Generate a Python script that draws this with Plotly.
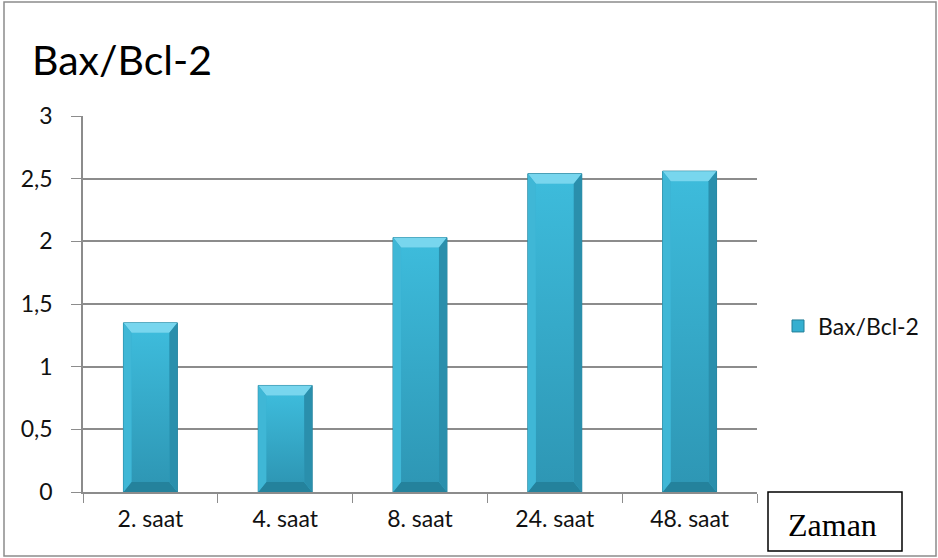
import plotly.graph_objects as go

# Bax/Bcl-2 ratio over time
categories = ["2. saat", "4. saat", "8. saat", "24. saat", "48. saat"]
ratio = [1.35, 0.85, 2.03, 2.54, 2.56]
series_name = "Bax/Bcl-2"
axis_label = "Zaman"

W, H = 938, 558
L, R, T, B = 83, 181, 116, 66
pw, ph = W - L - R, H - T - B
Y_MAX = 3.0
BAR_W = 0.4


def px(x):
    return (x - L) / pw


def py(y):
    return (H - B - y) / ph


# bevel size in data units (about 8 px wide, 10 px tall)
bx = 8 * len(categories) / pw
by = 10 * Y_MAX / ph
hw = BAR_W / 2

fig = go.Figure()
fig.add_trace(go.Bar(
    x=categories, y=ratio, name=series_name,
    marker=dict(color="#35AFD0", line=dict(color="#237F98", width=1)),
    width=BAR_W, showlegend=True,
))

# shaded front face of each bar on a numeric overlay axis
for i, v in enumerate(ratio):
    fig.add_trace(go.Scatter(
        x=[i - hw + bx, i + hw - bx, i + hw - bx, i - hw + bx, i - hw + bx],
        y=[by, by, v - by, v - by, by],
        xaxis="x2", fill="toself", mode="none", showlegend=False, hoverinfo="skip",
        fillgradient=dict(type="vertical",
                          colorscale=[[0, "#2E97B5"], [1, "#3DBBDB"]]),
    ))

shapes = []
for i, v in enumerate(ratio):
    xl, xr = i - hw, i + hw
    xil, xir = xl + bx, xr - bx
    bevels = [
        # top, bottom, left, right facets
        ([(xl, v), (xr, v), (xir, v - by), (xil, v - by)], "#78D6EE"),
        ([(xl, 0), (xr, 0), (xir, by), (xil, by)], "#24829C"),
        ([(xl, 0), (xl, v), (xil, v - by), (xil, by)], "#3FB7D6"),
        ([(xr, 0), (xr, v), (xir, v - by), (xir, by)], "#2A8FAC"),
    ]
    for pts, col in bevels:
        path = "M " + " L ".join(f"{x},{y}" for x, y in pts) + " Z"
        shapes.append(dict(type="path", xref="x2", yref="y", path=path,
                           fillcolor=col, line=dict(width=0), layer="above"))

# chart frame and the axis-name box
shapes.append(dict(type="rect", xref="paper", yref="paper",
                   x0=px(4), x1=px(936), y0=py(556), y1=py(2),
                   line=dict(color="#8c8c8c", width=1.5), layer="below"))
shapes.append(dict(type="rect", xref="paper", yref="paper",
                   x0=px(768), x1=px(902), y0=py(551), y1=py(492),
                   line=dict(color="black", width=1.5), fillcolor="white"))

fig.update_layout(
    width=W, height=H,
    margin=dict(l=L, r=R, t=T, b=B),
    paper_bgcolor="white", plot_bgcolor="white",
    separators=",.",
    font=dict(family="Lato, Open Sans, sans-serif", size=23, color="#111"),
    xaxis=dict(
        showline=True, linecolor="#8c8c8c", linewidth=1.5,
        ticks="outside", tickson="boundaries", ticklen=9, tickcolor="#8c8c8c",
        showgrid=False, tickfont=dict(size=23), ticklabelstandoff=6,
    ),
    xaxis2=dict(overlaying="x", range=[-0.5, len(categories) - 0.5],
                visible=False, fixedrange=True),
    yaxis=dict(
        range=[0, Y_MAX], dtick=0.5, showline=True, linecolor="#8c8c8c", linewidth=1.5,
        ticks="outside", ticklen=10, tickcolor="#8c8c8c",
        showgrid=True, gridcolor="#8c8c8c", gridwidth=1.5,
        zeroline=False, tickfont=dict(size=23), ticklabelstandoff=14,
    ),
    legend=dict(
        x=px(778), y=py(326), xanchor="left", yanchor="middle",
        font=dict(size=23), bgcolor="rgba(0,0,0,0)",
    ),
    shapes=shapes,
    annotations=[
        dict(text=series_name, xref="paper", yref="paper",
             x=px(30), y=py(60), xanchor="left", yanchor="middle",
             showarrow=False, font=dict(size=41, color="black")),
        dict(text=axis_label, xref="paper", yref="paper",
             x=px(833), y=py(525), xanchor="center", yanchor="middle",
             showarrow=False,
             font=dict(family="Liberation Serif, serif", size=32, color="black")),
    ],
)

fig.write_html("out.html")
